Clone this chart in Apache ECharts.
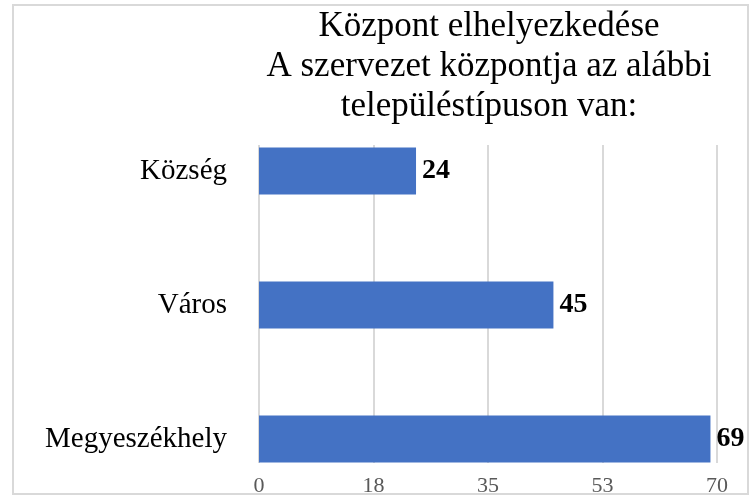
<!DOCTYPE html>
<html>
<head>
<meta charset="utf-8">
<script src="https://cdn.jsdelivr.net/npm/echarts@6/dist/echarts.min.js"></script>
<style>
	html,body{margin:0;padding:0;background:#fff;}
	#chart{width:752px;height:496px;}
</style>
</head>
<body>
<div id="chart"></div>
<script>
//adatok
var categories = ["Község", "Város", "Megyeszékhely"];
var values = [24, 45, 69];
var xTickLabels = ["0", "18", "35", "53", "70"];
var titleLines = ["Központ elhelyezkedése", "A szervezet központja az alábbi", "településtípuson van:"];

var serif = "'Liberation Serif', 'DejaVu Serif', serif";
var myChart = echarts.init(document.getElementById('chart'));

var option = {
	backgroundColor: '#fff',
	animation: false,
	title: {
		text: titleLines.join("\n"),
		left: 489,
		top: 7,
		padding: 0,
		textAlign: 'center',
		textStyle: {
			fontFamily: serif,
			fontWeight: 'normal',
			fontSize: 35,
			lineHeight: 40,
			color: '#000'
		}
	},
	//keret
	graphic: [{
		type: 'rect',
		shape: {x: 13, y: 5, width: 735, height: 489},
		style: {fill: 'none', stroke: '#d9d9d9', lineWidth: 2},
		silent: true
	}],
	grid: [
		{left: 259, width: 458, top: 104, height: 402, outerBoundsMode: 'none'},  //oszlopok
		{left: 259, width: 458, top: 145, height: 318, outerBoundsMode: 'none'}   //rácsvonalak + tengely
	],
	xAxis: [
		{gridIndex: 0, type: 'value', min: 0, max: 70, show: false},
		{
			gridIndex: 1, type: 'value', min: 0, max: 70, interval: 17.5,
			axisLine: {show: false},
			axisTick: {show: false},
			axisLabel: {
				margin: 12,
				fontFamily: serif,
				fontSize: 22,
				color: '#595959',
				formatter: function(v, i){ return xTickLabels[i]; }
			},
			splitLine: {show: true, lineStyle: {color: '#d9d9d9', width: 2}}
		}
	],
	yAxis: [
		{
			gridIndex: 0, type: 'category', inverse: true, data: categories,
			axisLine: {show: false},
			axisTick: {show: false},
			axisLabel: {margin: 32, fontFamily: serif, fontSize: 29, color: '#000'}
		},
		{gridIndex: 1, type: 'value', show: false}
	],
	series: [{
		type: 'bar',
		xAxisIndex: 0,
		yAxisIndex: 0,
		data: values,
		barWidth: 47,
		itemStyle: {color: '#4472c4'},
		label: {
			show: true,
			position: 'right',
			distance: 6,
			fontFamily: serif,
			fontWeight: 'bold',
			fontSize: 28,
			color: '#000'
		}
	}]
};
myChart.setOption(option);
</script>
</body>
</html>
